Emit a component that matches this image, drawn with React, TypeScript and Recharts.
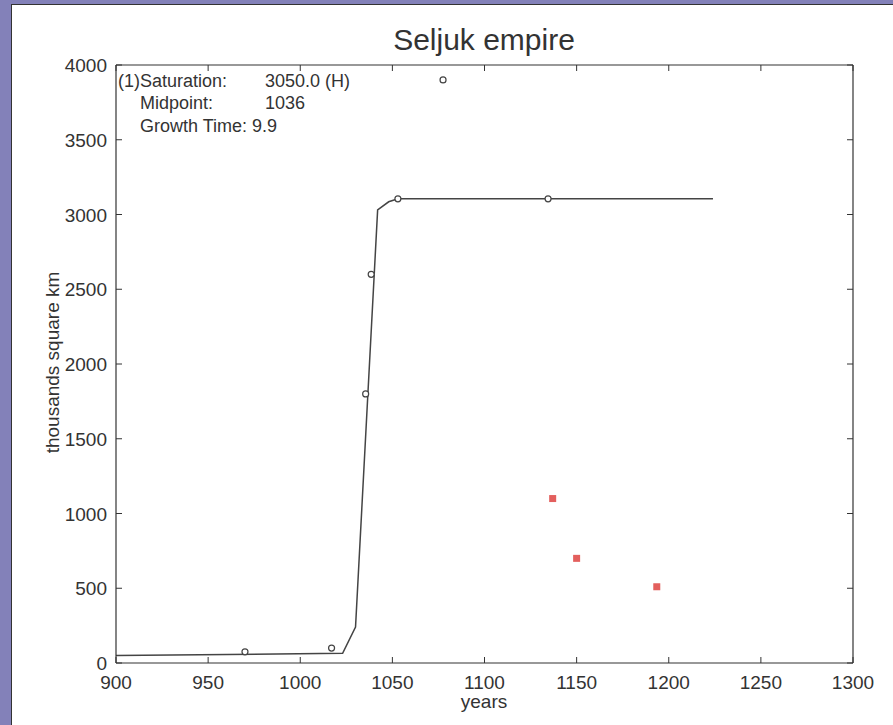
import React from 'react';
import { ComposedChart, Line, Scatter, XAxis, YAxis } from 'recharts';

const xTicks = [900, 950, 1000, 1050, 1100, 1150, 1200, 1250, 1300];
const yTicks = [0, 500, 1000, 1500, 2000, 2500, 3000, 3500, 4000];

// fitted logistic curve (polyline)
const fitYears = [900, 1023, 1030, 1042, 1048, 1053, 1224];
const fitValues = [50, 65, 240, 3030, 3085, 3105, 3105];

// observed data (open circles)
const obsYears = [970, 1017, 1035.5, 1038.5, 1053, 1077.5, 1134.5];
const obsValues = [75, 100, 1800, 2600, 3105, 3900, 3105];

// excluded points (red squares)
const extraYears = [1137, 1150, 1193.5];
const extraValues = [1100, 700, 510];

const fitData = fitYears.map((x, i) => ({ x, y: fitValues[i] }));
const obsData = obsYears.map((x, i) => ({ x, y: obsValues[i] }));
const extraData = extraYears.map((x, i) => ({ x, y: extraValues[i] }));

const FONT = '"Liberation Sans", Arial, Helvetica, sans-serif';
const INK = '#333';
const TICK = 6;

const BottomTick = (props: any) => {
  const { x, y, payload } = props;
  return (
    <g>
      <line x1={x} y1={y} x2={x} y2={y - TICK} stroke={INK} strokeWidth={1} />
      <text x={x} y={y + 26} textAnchor="middle" fontSize={19} fill={INK} fontFamily={FONT}>
        {payload.value}
      </text>
    </g>
  );
};

const TopTick = (props: any) => {
  const { x, y } = props;
  return <line x1={x} y1={y} x2={x} y2={y + TICK} stroke={INK} strokeWidth={1} />;
};

const LeftTick = (props: any) => {
  const { x, y, payload } = props;
  return (
    <g>
      <line x1={x} y1={y} x2={x + TICK} y2={y} stroke={INK} strokeWidth={1} />
      <text x={x - 9} y={y + 7} textAnchor="end" fontSize={19} fill={INK} fontFamily={FONT}>
        {payload.value}
      </text>
    </g>
  );
};

const RightTick = (props: any) => {
  const { x, y } = props;
  return <line x1={x} y1={y} x2={x - TICK} y2={y} stroke={INK} strokeWidth={1} />;
};

const Circle = (p: any) => (
  <circle cx={p.cx} cy={p.cy} r={3} fill="#fff" stroke="#444" strokeWidth={1.2} />
);
const Square = (p: any) => (
  <rect x={p.cx - 3.5} y={p.cy - 3.5} width={7} height={7} fill="#e35f5d" />
);

const textStyle: React.CSSProperties = {
  position: 'absolute',
  fontFamily: FONT,
  color: INK,
  whiteSpace: 'nowrap',
  lineHeight: 1,
};

export default function App() {
  return (
    <div style={{ position: 'absolute', left: 0, top: 0, width: 893, height: 725, background: '#8381b9', overflow: 'hidden' }}>
      <div style={{ position: 'absolute', left: 11, top: 4, right: 0, bottom: 0, background: '#fff', borderLeft: '1px solid #333', borderTop: '1px solid #333' }} />
      <div style={{ position: 'absolute', left: 0, top: 0 }}>
        <ComposedChart width={893} height={725} margin={{ top: 64, right: 39, bottom: 0, left: 0 }}>
          <XAxis
            xAxisId="b"
            dataKey="x"
            type="number"
            orientation="bottom"
            domain={[900, 1300]}
            ticks={xTicks}
            interval={0}
            height={62}
            tickSize={0}
            tickMargin={0}
            tickLine={false}
            axisLine={{ stroke: INK, strokeWidth: 1.2 }}
            tick={<BottomTick />}
            allowDataOverflow
          />
          <XAxis
            xAxisId="t"
            dataKey="x"
            type="number"
            orientation="top"
            domain={[900, 1300]}
            ticks={xTicks}
            interval={0}
            height={1}
            tickSize={0}
            tickMargin={0}
            tickLine={false}
            axisLine={{ stroke: INK, strokeWidth: 1.2 }}
            tick={<TopTick />}
            allowDataOverflow
          />
          <YAxis
            yAxisId="l"
            dataKey="y"
            type="number"
            orientation="left"
            domain={[0, 4000]}
            ticks={yTicks}
            interval={0}
            width={116}
            tickSize={0}
            tickMargin={0}
            tickLine={false}
            axisLine={{ stroke: INK, strokeWidth: 1.2 }}
            tick={<LeftTick />}
            allowDataOverflow
          />
          <YAxis
            yAxisId="r"
            dataKey="y"
            type="number"
            orientation="right"
            domain={[0, 4000]}
            ticks={yTicks}
            interval={0}
            width={1}
            tickSize={0}
            tickMargin={0}
            tickLine={false}
            axisLine={{ stroke: INK, strokeWidth: 1.2 }}
            tick={<RightTick />}
            allowDataOverflow
          />
          <Line
            xAxisId="b"
            yAxisId="l"
            data={fitData}
            dataKey="y"
            type="linear"
            stroke="#444"
            strokeWidth={1.5}
            dot={false}
            activeDot={false}
            isAnimationActive={false}
          />
          <Scatter xAxisId="b" yAxisId="l" data={obsData} dataKey="y" shape={<Circle />} isAnimationActive={false} />
          <Scatter xAxisId="b" yAxisId="l" data={extraData} dataKey="y" shape={<Square />} isAnimationActive={false} />
        </ComposedChart>
      </div>
      <div style={{ ...textStyle, left: 0, width: 968, top: 25, fontSize: 30, textAlign: 'center' }}>Seljuk empire</div>
      <div style={{ ...textStyle, left: 0, width: 968, top: 692, fontSize: 19, textAlign: 'center' }}>years</div>
      <div
        style={{
          ...textStyle,
          left: 52 - 150,
          top: 363 - 10,
          width: 300,
          fontSize: 19,
          textAlign: 'center',
          transform: 'rotate(-90deg)',
        }}
      >
        thousands square km
      </div>
      <div style={{ ...textStyle, left: 118, top: 72, fontSize: 18 }}>(1)</div>
      <div style={{ ...textStyle, left: 140, top: 72, fontSize: 18 }}>Saturation:</div>
      <div style={{ ...textStyle, left: 265, top: 72, fontSize: 18 }}>3050.0 (H)</div>
      <div style={{ ...textStyle, left: 140, top: 94, fontSize: 18 }}>Midpoint:</div>
      <div style={{ ...textStyle, left: 265, top: 94, fontSize: 18 }}>1036</div>
      <div style={{ ...textStyle, left: 140, top: 117, fontSize: 18 }}>Growth Time: 9.9</div>
    </div>
  );
}
